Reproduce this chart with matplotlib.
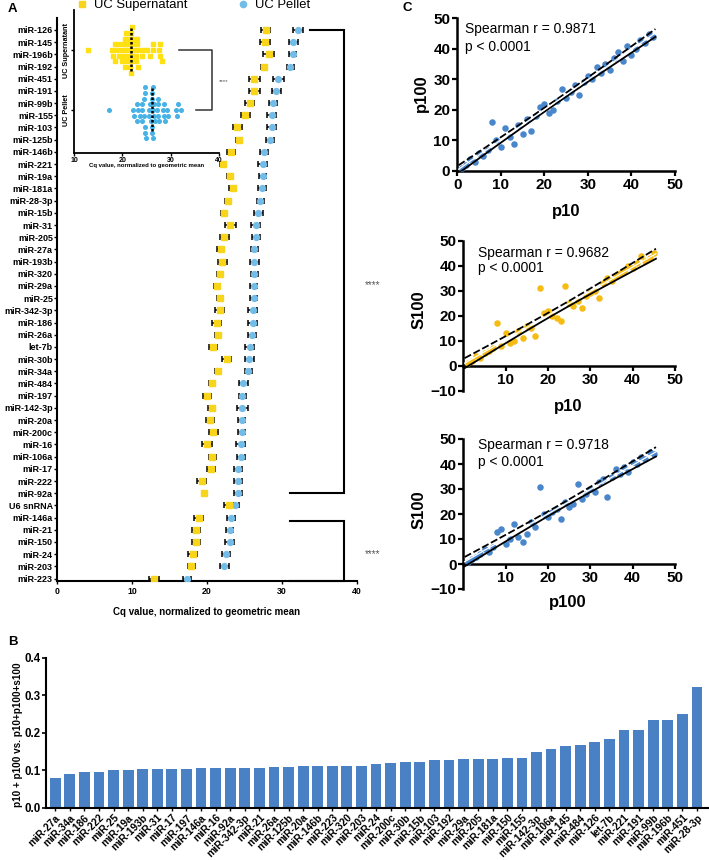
import matplotlib.pyplot as plt
from matplotlib.lines import Line2D
import numpy as np

plt.rcParams['font.family'] = ['Liberation Sans', 'DejaVu Sans']

# ---- Panel A data: Cq values (mean +- SEM) ----
mirnas = ['miR-126', 'miR-145', 'miR-196b', 'miR-192', 'miR-451', 'miR-191', 'miR-99b',
          'miR-155', 'miR-103', 'miR-125b', 'miR-146b', 'miR-221', 'miR-19a', 'miR-181a',
          'miR-28-3p', 'miR-15b', 'miR-31', 'miR-205', 'miR-27a', 'miR-193b', 'miR-320',
          'miR-29a', 'miR-25', 'miR-342-3p', 'miR-186', 'miR-26a', 'let-7b', 'miR-30b',
          'miR-34a', 'miR-484', 'miR-197', 'miR-142-3p', 'miR-20a', 'miR-200c', 'miR-16',
          'miR-106a', 'miR-17', 'miR-222', 'miR-92a', 'U6 snRNA', 'miR-146a', 'miR-21',
          'miR-150', 'miR-24', 'miR-203', 'miR-223']
cq_sup = [27.8, 27.7, 28.2, 27.6, 26.3, 26.3, 25.7, 25.1, 24.0, 24.3, 23.2, 22.1, 23.1, 23.4,
          22.8, 22.2, 23.1, 22.3, 21.8, 22.0, 21.7, 21.3, 21.7, 21.7, 21.3, 21.4, 20.8, 22.6,
          21.5, 20.6, 20.0, 20.6, 20.4, 20.8, 20.0, 20.7, 20.5, 19.3, 19.6, 22.9, 18.9, 18.5,
          18.5, 18.1, 17.9, 12.9]
cq_sup_sem = [0.6, 0.7, 0.7, 0.4, 0.7, 0.7, 0.6, 0.6, 0.6, 0.4, 0.5, 0.4, 0.4, 0.5,
              0.4, 0.4, 0.7, 0.6, 0.5, 0.6, 0.4, 0.4, 0.4, 0.6, 0.6, 0.4, 0.5, 0.6,
              0.4, 0.4, 0.5, 0.5, 0.5, 0.6, 0.7, 0.5, 0.5, 0.6, 0.0, 0.7, 0.6, 0.5,
              0.5, 0.6, 0.5, 0.7]
cq_pel = [32.1, 31.5, 31.4, 31.1, 29.5, 29.2, 28.8, 28.6, 28.6, 28.4, 27.6, 27.4, 27.4, 27.3,
          27.1, 26.8, 26.5, 26.5, 26.3, 26.3, 26.3, 26.2, 26.2, 26.1, 26.1, 26.0, 25.7, 25.6,
          25.5, 24.8, 24.7, 24.7, 24.6, 24.6, 24.5, 24.5, 24.1, 24.1, 24.1, 23.7, 23.2, 23.0,
          23.0, 22.5, 22.3, 17.3]
cq_pel_sem = [0.7, 0.6, 0.5, 0.5, 0.7, 0.6, 0.5, 0.6, 0.6, 0.5, 0.5, 0.6, 0.5, 0.5,
              0.5, 0.6, 0.6, 0.5, 0.5, 0.6, 0.5, 0.5, 0.5, 0.6, 0.6, 0.5, 0.6, 0.6,
              0.5, 0.6, 0.5, 0.7, 0.5, 0.5, 0.6, 0.5, 0.5, 0.5, 0.5, 0.6, 0.5, 0.5,
              0.6, 0.5, 0.6, 0.5]

# ---- Panel B data ----
b_names = ['miR-27a', 'miR-34a', 'miR-186', 'miR-222', 'miR-25', 'miR-19a', 'miR-193b',
           'miR-31', 'miR-17', 'miR-197', 'miR-146a', 'miR-16', 'miR-92a', 'miR-342-3p',
           'miR-21', 'miR-26a', 'miR-125b', 'miR-20a', 'miR-146b', 'miR-223', 'miR-320',
           'miR-203', 'miR-24', 'miR-200c', 'miR-30b', 'miR-15b', 'miR-103', 'miR-192',
           'miR-29a', 'miR-205', 'miR-181a', 'miR-150', 'miR-155', 'miR-142-3p', 'miR-106a',
           'miR-145', 'miR-484', 'miR-126', 'let-7b', 'miR-221', 'miR-191', 'miR-99b',
           'miR-196b', 'miR-451', 'miR-28-3p']
b_ratio = [0.080, 0.090, 0.095, 0.096, 0.100, 0.101, 0.102, 0.102, 0.103, 0.103, 0.105,
           0.106, 0.107, 0.107, 0.107, 0.108, 0.108, 0.110, 0.111, 0.111, 0.112, 0.112,
           0.117, 0.118, 0.121, 0.121, 0.126, 0.126, 0.130, 0.131, 0.131, 0.132, 0.133,
           0.149, 0.156, 0.165, 0.167, 0.174, 0.183, 0.206, 0.208, 0.234, 0.234, 0.251,
           0.321]

# ---- Panel C data: ranks ----
rank_x = list(range(1, 46))
c1_p100 = [1, 2, 4, 3, 6, 5, 7, 16, 10, 8, 14, 11, 9, 15, 12, 17, 13, 18, 21, 22, 19, 20, 23,
           27, 24, 26, 28, 25, 29, 31, 30, 34, 32, 35, 33, 37, 39, 36, 41, 38, 40, 43, 42, 45, 44]
c2_s100 = [1, 2, 4, 3, 5, 6, 7, 17, 8, 13, 9, 10, 14, 11, 16, 15, 12, 31, 21, 22, 20, 19, 18,
           32, 25, 24, 26, 23, 28, 29, 30, 27, 33, 35, 34, 36, 37, 38, 40, 39, 41, 44, 42, 43, 45]
c3_s100 = [1, 2, 3, 4, 6, 5, 7, 13, 14, 8, 10, 16, 11, 9, 12, 17, 15, 31, 20, 19, 21, 22, 18,
           25, 23, 24, 32, 26, 28, 30, 29, 33, 34, 27, 35, 38, 36, 39, 37, 41, 40, 43, 42, 45, 44]

YEL = '#F8D51A'
LBLUE = '#74BCE8'
IYEL = '#FFE010'
IBLUE = '#47B2E6'
CBLUE = '#4A86CC'
CYEL = '#F5BC14'
BBLUE = '#4A80C4'

W, H = 709, 860
fig = plt.figure(figsize=(W / 100, H / 100), dpi=100)


def px_axes(l, t, r, b):
    return fig.add_axes([l / W, 1 - b / H, (r - l) / W, (b - t) / H])


def swarm_levels(vals, min_dx):
    vals = np.asarray(vals, float)
    levels = np.zeros(len(vals), int)
    placed = {}
    for i in np.argsort(vals):
        step = 0
        while True:
            lvl = ((step + 1) // 2) * (1 if step % 2 == 1 else -1)
            if all(abs(vals[i] - v) >= min_dx for v in placed.get(lvl, [])):
                break
            step += 1
        placed.setdefault(lvl, []).append(vals[i])
        levels[i] = lvl
    return levels


def fit_band(x, y, xs):
    x = np.asarray(x, float)
    y = np.asarray(y, float)
    n = len(x)
    b, a = np.polyfit(x, y, 1)
    s = np.sqrt(np.sum((y - (a + b * x)) ** 2) / (n - 2))
    se = s * np.sqrt(1 / n + (xs - x.mean()) ** 2 / np.sum((x - x.mean()) ** 2))
    fit = a + b * xs
    return fit, fit - 2.017 * se, fit + 2.017 * se


# ================= Panel A =================
ax = px_axes(57, 18, 357, 581)
rows = np.arange(len(mirnas))
ax.errorbar(cq_pel, rows, xerr=cq_pel_sem, fmt='o', ms=4.2, color=LBLUE, mec=LBLUE,
            ecolor='black', elinewidth=1.1, capsize=2.2, capthick=1.1, zorder=3)
ax.errorbar(cq_sup, rows, xerr=cq_sup_sem, fmt='s', ms=4.2, color=YEL, mec=YEL,
            ecolor='black', elinewidth=1.1, capsize=2.2, capthick=1.1, zorder=3)
ax.set_xlim(0, 40)
ax.set_ylim(45.2, -0.98)
ax.set_yticks(rows)
ax.set_yticklabels(mirnas, fontsize=6.5, fontweight='bold')
ax.set_xticks([0, 10, 20, 30, 40])
ax.set_xticklabels(['0', '10', '20', '30', '40'], fontsize=6.3, fontweight='bold')
ax.tick_params(axis='y', length=2, width=1, pad=1)
ax.tick_params(axis='x', length=2.5, width=1, pad=2)
for s in ['top', 'right']:
    ax.spines[s].set_visible(False)
for s in ['left', 'bottom']:
    ax.spines[s].set_linewidth(1.5)
ax.set_xlabel('Cq value, normalized to geometric mean', fontsize=7, fontweight='bold')
ax.xaxis.set_label_coords(0.5, -0.055)
ax.xaxis.label.set_va('center')

# significance brackets
ax.plot([33.7, 38.3, 38.3, 31.1], [0, 0, 38, 38], color='black', lw=1.5, clip_on=False,
        solid_joinstyle='miter')
ax.plot([31.1, 38.3, 38.3, 31.1], [40.3, 40.3, 45.2, 45.2], color='black', lw=1.5,
        clip_on=False, solid_joinstyle='miter')
ax.text(42.1, 20.9, '****', fontsize=7, color='#555555', ha='center', va='center', clip_on=False)
ax.text(42.1, 43.0, '****', fontsize=7, color='#555555', ha='center', va='center', clip_on=False)

# inset
ins = px_axes(74, 10, 219, 153)
ins.patch.set_alpha(0)
dy = 0.095
for g, (vals, col, mk) in enumerate([(cq_sup, IYEL, 's'), (cq_pel, IBLUE, 'o')]):
    lv = swarm_levels(vals, 0.75)
    ins.plot(vals, g + lv * dy, mk, ms=2.6, color=col, mec=col, ls='none')
    med = np.median(vals)
    ins.plot([med, med], [g - 0.36, g + 0.36], color='black', ls=(0, (1, 0.8)), lw=1.8)
ins.set_xlim(10, 40)
ins.set_ylim(1.717, -0.667)
ins.set_yticks([0, 1])
ins.set_yticklabels(['UC Supernatant', 'UC Pellet'], rotation=90, va='center',
                    fontsize=5.2, fontweight='bold')
ins.set_xticks([10, 20, 30, 40])
ins.set_xticklabels(['10', '20', '30', '40'], fontsize=5, fontweight='bold')
ins.tick_params(length=2, width=1, pad=1)
for s in ['top', 'right']:
    ins.spines[s].set_visible(False)
for s in ['left', 'bottom']:
    ins.spines[s].set_linewidth(1.3)
ins.set_xlabel('Cq value, normalized to geometric mean', fontsize=4.3, fontweight='bold')
ins.xaxis.set_label_coords(0.5, -0.09)
ins.xaxis.label.set_va('center')
ins.plot([31.7, 38.6, 38.6, 35.3], [0, 0, 1, 1], color='#333333', lw=1.1, clip_on=False)
ins.text(40.9, 0.52, '****', fontsize=4.5, color='#555555', ha='center', va='center',
         clip_on=False)

# legend
handles = [Line2D([], [], marker='s', ls='none', color=YEL, ms=4.5),
           Line2D([], [], marker='o', ls='none', color=LBLUE, ms=4.5)]
fig.legend(handles, ['UC Supernatant', 'UC Pellet'], loc='center left',
           bbox_to_anchor=(77 / W, 1 - 5 / H), ncol=2, frameon=False, fontsize=9.4,
           handlelength=0.8, handletextpad=0.5, columnspacing=3.9, borderpad=0,
           borderaxespad=0)

# ================= Panel B =================
axb = px_axes(46, 657.7, 708, 807.7)
xb = np.arange(len(b_names))
axb.bar(xb, b_ratio, width=0.74, color=BBLUE)
axb.set_xlim(-0.63, 44.76)
axb.set_ylim(0, 0.4)
axb.set_yticks([0, 0.1, 0.2, 0.3, 0.4])
axb.set_yticklabels(['0.0', '0.1', '0.2', '0.3', '0.4'], fontsize=8.3, fontweight='bold')
axb.set_xticks(xb)
axb.set_xticklabels(b_names, rotation=45, ha='right', rotation_mode='anchor',
                    fontsize=7.4, fontweight='bold')
axb.tick_params(axis='y', length=3, width=1.2, pad=1)
axb.tick_params(axis='x', length=2.5, width=1, pad=1)
for s in ['top', 'right']:
    axb.spines[s].set_visible(False)
for s in ['left', 'bottom']:
    axb.spines[s].set_linewidth(1.5)
axb.set_ylabel('p10 + p100 vs. p10+p100+s100', fontsize=7.2, fontweight='bold')
axb.yaxis.set_label_coords(-0.042, 0.485)
axb.yaxis.label.set_va('center')

# ================= Panel C =================
def scatter_panel(axc, x, y, col, xlab, ylab, zero_axis):
    axc.scatter(x, y, s=22, color=col, zorder=3, linewidths=0)
    xs = np.linspace(0.3, 45.5, 100)
    fit, lo, hi = fit_band(x, y, xs)
    axc.plot(xs, hi, color='black', lw=1.3, ls=(0, (4, 1.5)), zorder=4)
    axc.plot(xs, lo, color='black', lw=1.3, zorder=4)
    axc.plot(xs, fit, color='white', lw=0.9, zorder=4)
    axc.set_xlim(0, 50)
    for s in ['top', 'right']:
        axc.spines[s].set_visible(False)
    for s in ['left', 'bottom']:
        axc.spines[s].set_linewidth(1.8)
    axc.tick_params(length=3.5, width=1.6, labelsize=11, pad=1.5)
    if zero_axis:
        axc.set_ylim(-10, 50)
        axc.spines['bottom'].set_position(('data', 0))
        axc.set_xticks([10, 20, 30, 40, 50])
        axc.set_yticks([-10, 0, 10, 20, 30, 40, 50])
    else:
        axc.set_ylim(0, 50)
        axc.set_xticks([0, 10, 20, 30, 40, 50])
        axc.set_yticks([0, 10, 20, 30, 40, 50])
    for lbl in axc.get_xticklabels() + axc.get_yticklabels():
        lbl.set_fontweight('bold')
    axc.set_xlabel(xlab, fontsize=12, fontweight='bold')
    axc.set_ylabel(ylab, fontsize=12, fontweight='bold')
    axc.xaxis.label.set_va('center')
    axc.yaxis.label.set_va('center')


c1 = px_axes(457.3, 18.3, 675, 171)
scatter_panel(c1, rank_x, c1_p100, CBLUE, 'p10', 'p100', False)
c1.xaxis.set_label_coords(0.5, -0.268)
c1.yaxis.set_label_coords(-0.165, 0.51)
c1.text(0.035, 0.93, 'Spearman r = 0.9871', transform=c1.transAxes, fontsize=10, va='center')
c1.text(0.035, 0.812, 'p < 0.0001', transform=c1.transAxes, fontsize=10, va='center')

c2 = px_axes(463.4, 240.7, 675, 390.7)
scatter_panel(c2, rank_x, c2_s100, CYEL, 'p10', 'S100', True)
c2.xaxis.set_label_coords(0.494, -0.107)
c2.yaxis.set_label_coords(-0.21, 0.538)
c2.text(0.069, 0.92, 'Spearman r = 0.9682', transform=c2.transAxes, fontsize=10, va='center')
c2.text(0.069, 0.818, 'p < 0.0001', transform=c2.transAxes, fontsize=10, va='center')

c3 = px_axes(463.4, 439, 675, 589)
scatter_panel(c3, rank_x, c3_s100, CBLUE, 'p100', 'S100', True)
c3.xaxis.set_label_coords(0.494, -0.093)
c3.yaxis.set_label_coords(-0.21, 0.527)
c3.text(0.069, 0.96, 'Spearman r = 0.9718', transform=c3.transAxes, fontsize=10, va='center')
c3.text(0.069, 0.847, 'p < 0.0001', transform=c3.transAxes, fontsize=10, va='center')

# panel letters
fig.text(12 / W, 1 - 9 / H, 'A', fontsize=9.5, fontweight='bold', ha='center', va='center')
fig.text(13 / W, 1 - 642 / H, 'B', fontsize=9.5, fontweight='bold', ha='center', va='center')
fig.text(407 / W, 1 - 8 / H, 'C', fontsize=9.5, fontweight='bold', ha='center', va='center')

fig.savefig('out.png', dpi=100)
